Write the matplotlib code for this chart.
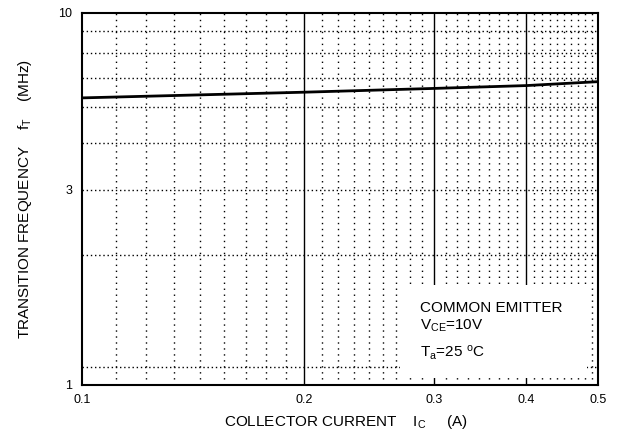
import numpy as np
import matplotlib
matplotlib.use('Agg')
import matplotlib.pyplot as plt
from matplotlib.patches import Rectangle

plt.rcParams['font.family'] = ['Liberation Sans', 'DejaVu Sans']
plt.rcParams['mathtext.default'] = 'regular'

# f_T - I_C curve (COMMON EMITTER, VCE=10V, Ta=25C)
ic = [0.1, 0.2, 0.3, 0.4, 0.5]
ft = [5.30, 5.49, 5.62, 5.72, 5.86]

x_major = [0.2, 0.3, 0.4]
x_ticks = [0.1, 0.2, 0.3, 0.4, 0.5]
x_ticklabels = ['0.1', '0.2', '0.3', '0.4', '0.5']
y_grid = [1, 2, 3, 4, 5, 6, 7, 8]
y_lim = (0.898, 8.98)
y_ticklabels = ['1', '3', '10']

fig = plt.figure(figsize=(6.17, 4.36), dpi=100)
ax = fig.add_axes([82 / 617, (436 - 384.7) / 436, 516 / 617, 372 / 436])
ax.set_xscale('log')
ax.set_yscale('log')
ax.set_xlim(0.1, 0.5)
ax.set_ylim(*y_lim)

# gitter: drobne linie kropkowane
minor_x = np.concatenate([
    np.linspace(0.1, 0.2, 10)[1:-1],
    np.linspace(0.2, 0.3, 10)[1:-1],
    np.linspace(0.3, 0.4, 10)[1:-1],
    np.linspace(0.4, 0.5, 11)[1:-1],
])
for xv in minor_x:
    ax.axvline(xv, color='black', lw=1.0, ls=(0, (1, 3.3)), zorder=1)
for yv in y_grid:
    ax.axhline(yv, color='black', lw=1.0, ls=(0, (1, 2)), zorder=1)
for xv in x_major:
    ax.axvline(xv, color='black', lw=1.0, zorder=1)

# biale pole pod opisem
ax.add_patch(Rectangle((0.616, 0.017), 0.363, 0.251, transform=ax.transAxes,
                       facecolor='white', edgecolor='none', zorder=2))

ax.plot(ic, ft, color='black', lw=2.0, zorder=3)

ax.set_xticks(x_ticks)
ax.set_xticklabels(x_ticklabels)
ax.set_xticks([], minor=True)
ax.set_yticks([y_lim[0], 3, y_lim[1]])
ax.set_yticklabels(y_ticklabels)
ax.set_yticks([], minor=True)
ax.tick_params(axis='both', length=0, labelsize=9)
ax.tick_params(axis='x', pad=7)
ax.tick_params(axis='y', pad=7)

for s in ax.spines.values():
    s.set_linewidth(1.5)

ax.text(0.656, 0.206, 'COMMON EMITTER', transform=ax.transAxes,
        fontsize=11, va='center', ha='left', zorder=4)
ax.text(0.656, 0.157, '$V_{CE}$=10V', transform=ax.transAxes,
        fontsize=11, va='center', ha='left', zorder=4)
ax.text(0.656, 0.087, '$T_{a}$=25 $^{o}$C', transform=ax.transAxes,
        fontsize=11, va='center', ha='left', zorder=4)

fig.text(346.5 / 617, (436 - 425.7) / 436,
         'COLLECTOR CURRENT    $I_{C}$     (A)',
         fontsize=11, ha='center', va='baseline')
fig.text(25 / 617, (436 - 199) / 436,
         'TRANSITION FREQUENCY    $f_{T}$    (MHz)',
         fontsize=11, ha='center', va='center', rotation=90)

fig.savefig('out.png', dpi=100)
